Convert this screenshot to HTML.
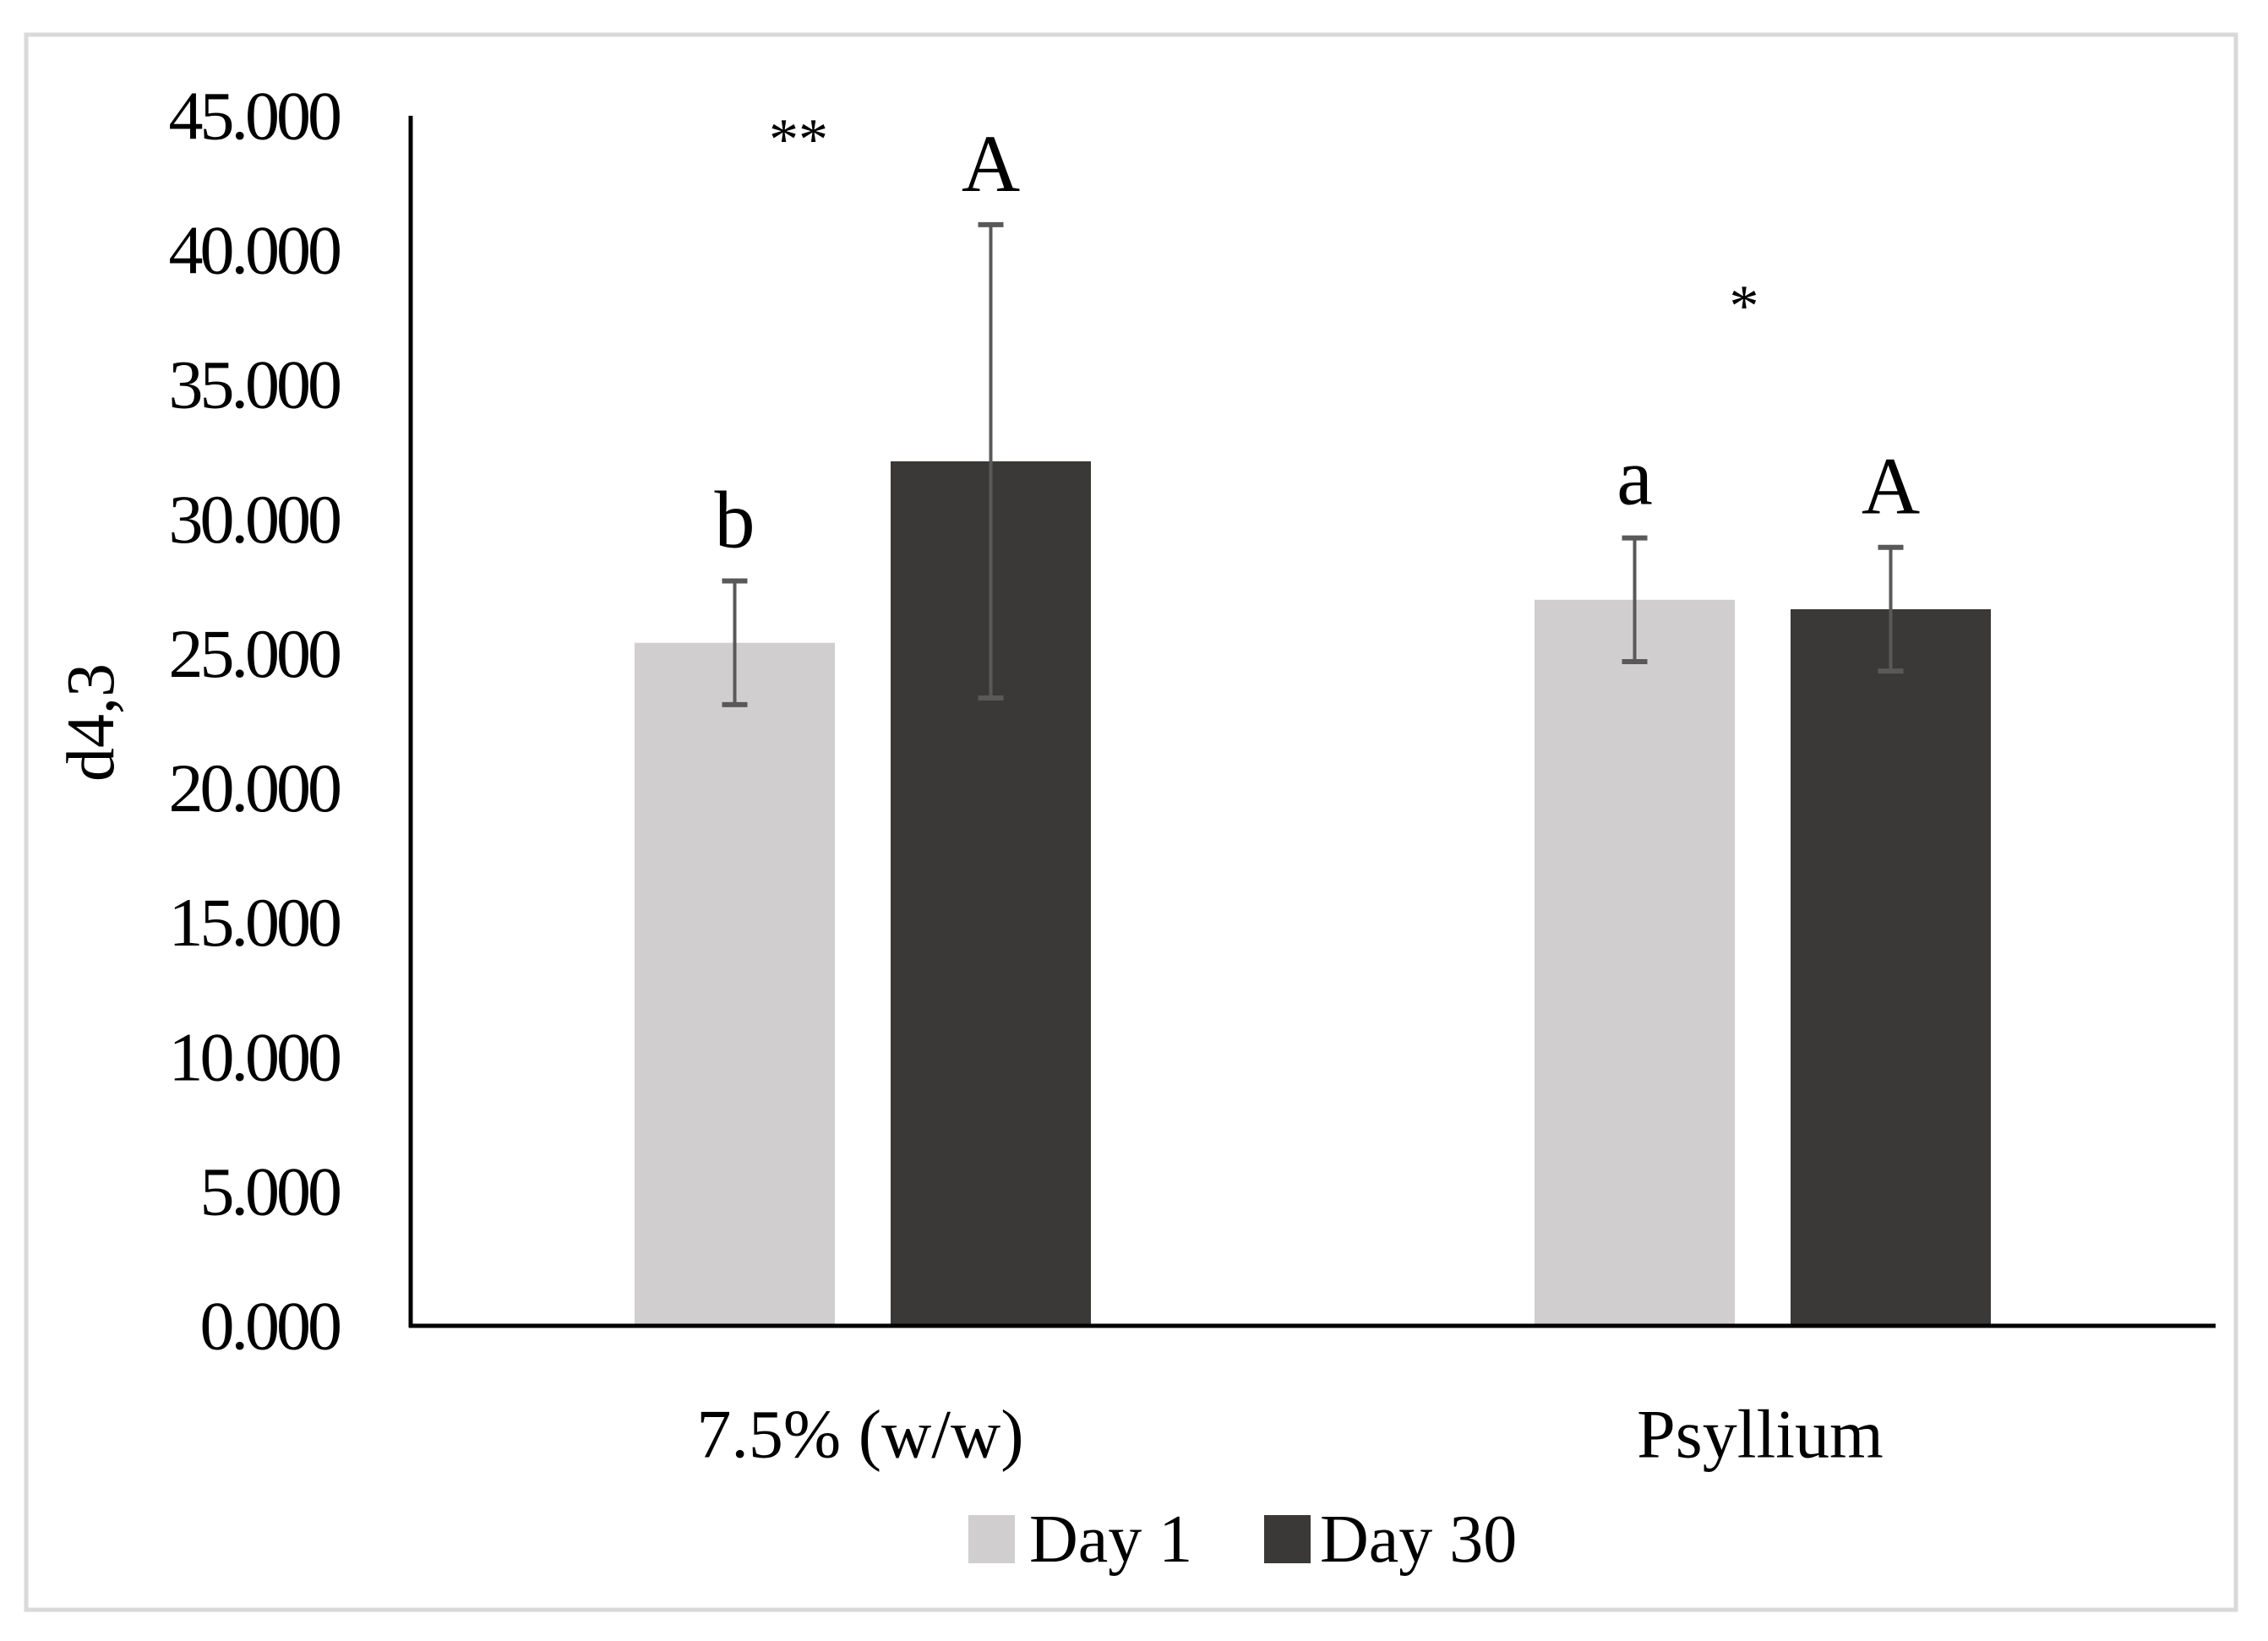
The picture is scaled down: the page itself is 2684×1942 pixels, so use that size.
<!DOCTYPE html>
<html><head><meta charset="utf-8"><style>
html,body{margin:0;padding:0;background:#fff;}
svg{display:block;font-family:"Liberation Serif",serif;}
</style></head><body>
<svg id="chart" width="2684" height="1942" viewBox="0 0 2684 1942" xmlns="http://www.w3.org/2000/svg">
<rect x="31" y="41" width="2615" height="1864" fill="#fff" stroke="#d9d9d9" stroke-width="5"/>
<g id="grid"></g>
<g id="bars"></g>
<g id="ann"></g>
<line x1="486" y1="137" x2="486" y2="1571" stroke="#000" stroke-width="5"/>
<line x1="484" y1="1569" x2="2622" y2="1569" stroke="#000" stroke-width="5"/>
<text x="108" y="855" font-size="80" text-anchor="middle" dominant-baseline="central" transform="rotate(-90 108 855)">d4,3</text>
<rect x="1146" y="1793" width="55" height="57" fill="#d0cece"/>
<text x="1218" y="1822" font-size="80" dominant-baseline="central">Day 1</text>
<rect x="1496" y="1793" width="55" height="57" fill="#3a3938"/>
<text x="1562" y="1822" font-size="80" dominant-baseline="central">Day 30</text>
</svg>
<script>
const categories = ["7.5% (w/w)", "Psyllium"];
const day1 = [25.4, 27.0];
const day30 = [32.15, 26.65];
const err1 = [2.3, 2.3];
const err30 = [8.8, 2.3];
const yTicks = [0, 5, 10, 15, 20, 25, 30, 35, 40, 45];
const tickLabels = ["0.000","5.000","10.000","15.000","20.000","25.000","30.000","35.000","40.000","45.000"];
const letters1 = ["b", "a"];
const letters30 = ["A", "A"];
const stars = ["**", "*"];

const NS = "http://www.w3.org/2000/svg";
const y0 = 1569, yTop = 137, yMax = 45;
function yScale(v){ return y0 - (v / yMax) * (y0 - yTop); }
const groupCenters = [1021, 2086];
const barW = 237, barGap = 66;
function xBar(i, s){ return groupCenters[i] + (s === 0 ? -(barW + barGap/2) : barGap/2); }
function mk(tag, attrs, parent){ const e = document.createElementNS(NS, tag); for (const k in attrs) e.setAttribute(k, attrs[k]); parent.appendChild(e); return e; }
const grid = document.getElementById("grid"), bars = document.getElementById("bars"), ann = document.getElementById("ann");

yTicks.forEach((t, i) => {
  const tx = mk("text", {x: 401, y: yScale(t), "font-size": 82, "text-anchor": "end", "dominant-baseline": "central", "letter-spacing": "-4"}, grid);
  
  
  tx.textContent = tickLabels[i];
});

categories.forEach((c, i) => {
  const lbl = mk("text", {x: groupCenters[i] - 3, y: 1697, "font-size": 82, "text-anchor": "middle", "dominant-baseline": "central"}, grid);
  
  
  lbl.textContent = c;
  [[day1, err1, "#d0cece", letters1], [day30, err30, "#3a3938", letters30]].forEach((s, si) => {
    const v = s[0][i], e = s[1][i];
    const x = xBar(i, si);
    const r = mk("rect", {x: x, y: yScale(v), width: barW, height: y0 - yScale(v), fill: s[2]}, bars);
    
    
    const cx = x + barW / 2;
    const g = mk("g", {stroke: "#595959", "stroke-width": 4}, bars);
    
    
    mk("line", {x1: cx, x2: cx, y1: yScale(v + e), y2: yScale(v - e)}, g);
    mk("line", {x1: cx - 15, x2: cx + 15, y1: yScale(v + e), y2: yScale(v + e), "stroke-width": 6}, g);
    mk("line", {x1: cx - 15, x2: cx + 15, y1: yScale(v - e), y2: yScale(v - e), "stroke-width": 6}, g);
    const lt = mk("text", {x: cx, y: yScale(v + e) - 40, "font-size": 96, "text-anchor": "middle"}, ann);
    
    
    lt.textContent = s[3][i];
  });
  const st = mk("text", {x: i === 0 ? 945 : 2064, y: i === 0 ? 188 : 385, "font-size": 70, "text-anchor": "middle"}, ann);
  
  
  st.textContent = stars[i];
});
</script>
</body></html>
